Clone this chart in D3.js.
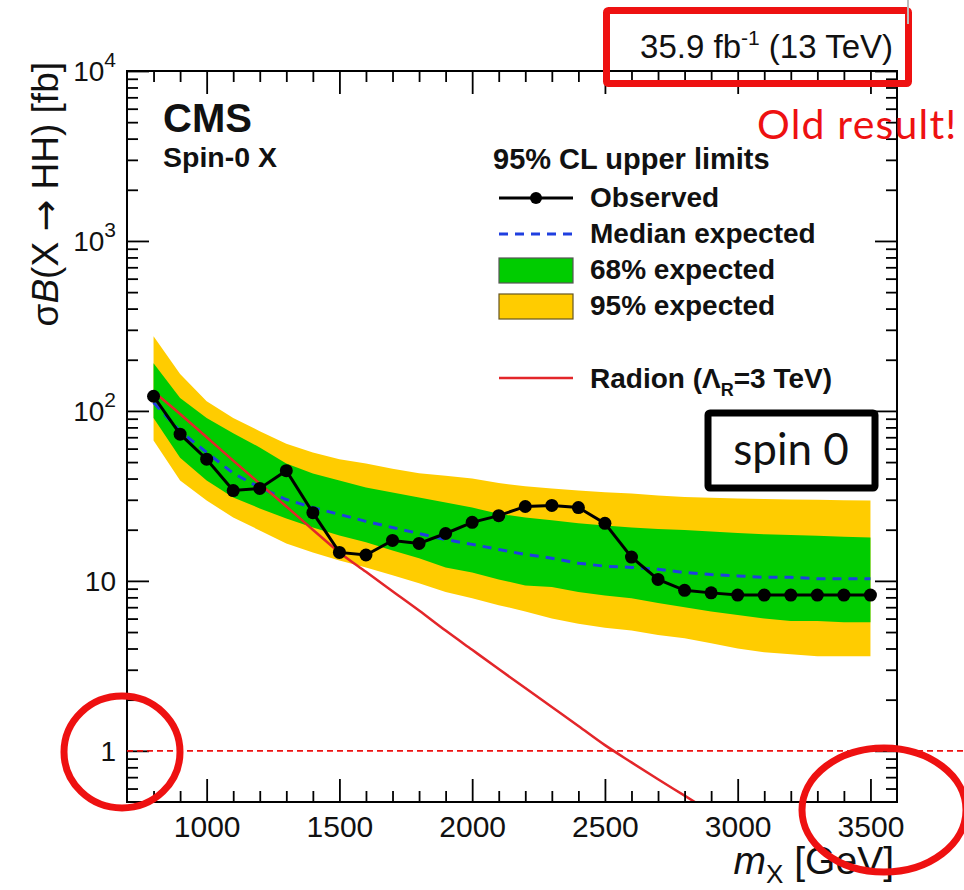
<!DOCTYPE html>
<html><head><meta charset="utf-8">
<script src="https://cdn.jsdelivr.net/npm/d3@7"></script>
<style>
body{margin:0;background:#fff}
svg{display:block}
text{font-family:"Liberation Sans",Arial,Helvetica,sans-serif;fill:#111}
</style>
</head><body><svg id="c" width="964" height="890"></svg>
<script>
// ---- data ----
const masses   = [800,900,1000,1100,1200,1300,1400,1500,1600,1700,1800,1900,2000,2100,2200,2300,2400,2500,2600,2700,2800,2900,3000,3100,3200,3300,3400,3500];
const observed = [122,73,52,34,35,44.5,25.2,14.7,14.2,17.3,16.6,19.0,22.1,24.2,27.4,27.8,27.0,21.8,13.8,10.2,8.8,8.5,8.25,8.25,8.25,8.25,8.25,8.25];
const expMedian= [112,76,57,43,35.4,30.1,27,24.6,22.4,20.6,19.0,17.5,16.4,15.3,14.3,13.6,12.7,12.2,12.0,11.7,11.2,10.9,10.7,10.5,10.5,10.3,10.3,10.3];
const exp68Up  = [191,119,91,74,61,49,42.8,38.9,35.4,33.1,30.9,28.9,27,24.8,23.6,22.7,21.8,21.2,20.6,20.2,19.9,19.5,19.1,18.8,18.6,18.4,18.2,18.0];
const exp68Down= [91,53,38.9,30.9,26.7,23.3,20.6,18.5,16.9,15.1,13.6,12.0,11.2,10.2,9.4,9.2,8.6,8.2,7.9,7.4,7.0,6.6,6.3,6.0,5.8,5.8,5.7,5.7];
const exp95Up  = [275,165,114,91,76,64,57,52,49,45.7,43,41.6,40,37.6,36,35,34,33.2,32.7,31.8,31.2,30.8,30.5,30.3,30.1,30,29.8,29.7];
const exp95Down= [67,38.9,29.7,23.6,19.8,16.6,14.7,13.2,12.0,10.8,9.7,8.6,7.9,7.2,6.6,6.0,5.6,5.3,5.1,4.8,4.6,4.3,4.0,3.8,3.7,3.6,3.6,3.6];
const radion   = [130,96,70,51,37.3,27.4,20,14.7,11.3,8.7,6.7,5.1,3.93,3.03,2.34,1.81,1.40,1.08,0.855,0.68,0.545,0.436,0.35,0.28,0.225,0.18,0.145,0.117];
const xTickValues = [1000,1500,2000,2500,3000,3500];
const yTickValues = [1,10,100,1000,10000];
const yTickLabels = [["1",""],["10",""],["10","2"],["10","3"],["10","4"]];

// ---- layout ----
const L=127,R=897,T=71,B=802;
const svg=d3.select("#c");
const x=d3.scaleLinear().domain([700,3600]).range([L,R]);
const y=d3.scaleLog().domain([0.5,1e4]).range([B,T]);

svg.append("defs").append("clipPath").attr("id","clip")
  .append("rect").attr("x",L).attr("y",T).attr("width",R-L).attr("height",B-T);

const rows=masses.map((m,i)=>({m,obs:observed[i],med:expMedian[i],u68:exp68Up[i],d68:exp68Down[i],u95:exp95Up[i],d95:exp95Down[i],rad:radion[i]}));

const g=svg.append("g").attr("clip-path","url(#clip)");
g.append("path").datum(rows).attr("fill","#ffcc00")
  .attr("d",d3.area().x(d=>x(d.m)).y0(d=>y(d.d95)).y1(d=>y(d.u95)));
g.append("path").datum(rows).attr("fill","#00cc00")
  .attr("d",d3.area().x(d=>x(d.m)).y0(d=>y(d.d68)).y1(d=>y(d.u68)));
g.append("path").datum(rows).attr("fill","none").attr("stroke","#1f3fe0").attr("stroke-width",3)
  .attr("stroke-dasharray","9,7")
  .attr("d",d3.line().x(d=>x(d.m)).y(d=>y(d.med)));
g.append("path").datum(rows).attr("fill","none").attr("stroke","#e3262a").attr("stroke-width",2.5)
  .attr("d",d3.line().curve(d3.curveMonotoneX).x(d=>x(d.m)).y(d=>y(d.rad)));
g.append("path").datum(rows).attr("fill","none").attr("stroke","#000").attr("stroke-width",3)
  .attr("d",d3.line().x(d=>x(d.m)).y(d=>y(d.obs)));
g.selectAll("circle.obs").data(rows).enter().append("circle")
  .attr("cx",d=>x(d.m)).attr("cy",d=>y(d.obs)).attr("r",6.5).attr("fill","#000");

// ---- axes ----
const xMinor=d3.range(800,3600,100).filter(v=>v%500!==0);
const yMinor=[];
[0.1,1,10,100,1000].forEach(dec=>{for(let k=2;k<=9;k++){const v=k*dec;if(v>0.5&&v<1e4)yMinor.push(v);}});

function styleAxis(sel){sel.select(".domain").remove();sel.selectAll(".tick line").attr("stroke","#000").attr("stroke-width",1.8);}

// bottom
svg.append("g").attr("transform",`translate(0,${B})`)
  .call(d3.axisBottom(x).tickValues(xTickValues).tickSizeInner(-23).tickSizeOuter(0).tickPadding(14).tickFormat(d3.format("d")))
  .call(styleAxis)
  .call(s=>s.selectAll("text").attr("font-size",30).attr("fill","#111").style("font-family","'Liberation Sans',Arial,sans-serif"));
svg.append("g").attr("transform",`translate(0,${B})`)
  .call(d3.axisBottom(x).tickValues(xMinor).tickSizeInner(-11).tickSizeOuter(0).tickFormat(""))
  .call(styleAxis);
// top
svg.append("g").attr("transform",`translate(0,${T})`)
  .call(d3.axisBottom(x).tickValues(xTickValues).tickSizeInner(23).tickSizeOuter(0).tickFormat(""))
  .call(styleAxis);
svg.append("g").attr("transform",`translate(0,${T})`)
  .call(d3.axisBottom(x).tickValues(xMinor).tickSizeInner(11).tickSizeOuter(0).tickFormat(""))
  .call(styleAxis);
// left
const la=svg.append("g").attr("transform",`translate(${L},0)`)
  .call(d3.axisLeft(y).tickValues(yTickValues).tickSizeInner(-22).tickSizeOuter(0).tickPadding(11).tickFormat(""))
  .call(styleAxis);
la.selectAll(".tick text").each(function(d){
  const t=d3.select(this).attr("font-size",28).attr("fill","#111").attr("dy","0.35em")
    .style("font-family","'Liberation Sans',Arial,sans-serif");
  const lab=yTickLabels[yTickValues.indexOf(d)];
  t.text(null);
  t.append("tspan").text(lab[0]);
  if(lab[1]) t.append("tspan").attr("dy","-14").attr("font-size",21).text(lab[1]);
});
svg.append("g").attr("transform",`translate(${L},0)`)
  .call(d3.axisLeft(y).tickValues(yMinor).tickSizeInner(-11).tickSizeOuter(0).tickFormat(""))
  .call(styleAxis);
// right
svg.append("g").attr("transform",`translate(${R},0)`)
  .call(d3.axisLeft(y).tickValues(yTickValues).tickSizeInner(22).tickSizeOuter(0).tickFormat(""))
  .call(styleAxis);
svg.append("g").attr("transform",`translate(${R},0)`)
  .call(d3.axisLeft(y).tickValues(yMinor).tickSizeInner(11).tickSizeOuter(0).tickFormat(""))
  .call(styleAxis);

// frame
svg.append("rect").attr("x",L).attr("y",T).attr("width",R-L).attr("height",B-T)
  .attr("fill","none").attr("stroke","#000").attr("stroke-width",2);

// axis titles
const xt=svg.append("text").attr("x",894).attr("y",874).attr("text-anchor","end").attr("font-size",39);
xt.append("tspan").attr("font-style","italic").text("m");
xt.append("tspan").attr("dy","9").attr("font-size",26).text("X");
xt.append("tspan").attr("dy","-9").text(" [GeV]");

const yt=svg.append("text").attr("transform","translate(58,62) rotate(-90)").attr("text-anchor","end").attr("font-size",37);
yt.append("tspan").text("σ");
yt.append("tspan").attr("font-style","italic").text("B");
yt.append("tspan").text("(X ");
yt.append("tspan").style("font-family","'DejaVu Sans',sans-serif").attr("font-size",38).text("→");
yt.append("tspan").text(" HH) [fb]");

// labels
svg.append("text").attr("x",163).attr("y",132).attr("font-size",40).attr("font-weight","bold").text("CMS");
svg.append("text").attr("x",163).attr("y",167).attr("font-size",28.5).attr("font-weight","bold").text("Spin-0 X");

const lumi=svg.append("text").attr("x",893).attr("y",58).attr("text-anchor","end").attr("font-size",33);
lumi.append("tspan").text("35.9 fb");
lumi.append("tspan").attr("dy","-13").attr("font-size",21).text("-1");
lumi.append("tspan").attr("dy","13").text(" (13 TeV)");

// legend
const lg=svg.append("g");
lg.append("text").attr("x",493).attr("y",169).attr("font-size",29).attr("font-weight","bold").text("95% CL upper limits");
const lx0=499,lx1=573,tx=590,fs=28;
lg.append("line").attr("x1",lx0).attr("x2",lx1).attr("y1",198).attr("y2",198).attr("stroke","#000").attr("stroke-width",3);
lg.append("circle").attr("cx",(lx0+lx1)/2).attr("cy",198).attr("r",6).attr("fill","#000");
lg.append("text").attr("x",tx).attr("y",207).attr("font-size",fs).attr("font-weight","bold").text("Observed");
lg.append("line").attr("x1",lx0).attr("x2",lx1).attr("y1",234).attr("y2",234).attr("stroke","#1f3fe0").attr("stroke-width",3).attr("stroke-dasharray","9,7");
lg.append("text").attr("x",tx).attr("y",243).attr("font-size",fs).attr("font-weight","bold").text("Median expected");
lg.append("rect").attr("x",lx0).attr("y",258).attr("width",lx1-lx0).attr("height",25).attr("fill","#00cc00").attr("stroke","#555").attr("stroke-width",1.2);
lg.append("text").attr("x",tx).attr("y",279).attr("font-size",fs).attr("font-weight","bold").text("68% expected");
lg.append("rect").attr("x",lx0).attr("y",294).attr("width",lx1-lx0).attr("height",25).attr("fill","#ffcc00").attr("stroke","#665522").attr("stroke-width",1.2);
lg.append("text").attr("x",tx).attr("y",315).attr("font-size",fs).attr("font-weight","bold").text("95% expected");
lg.append("line").attr("x1",lx0).attr("x2",lx1).attr("y1",378).attr("y2",378).attr("stroke","#e3262a").attr("stroke-width",2.5);
const rt=lg.append("text").attr("x",tx).attr("y",388).attr("font-size",fs).attr("font-weight","bold");
rt.append("tspan").text("Radion (Λ");
rt.append("tspan").attr("dy","8").attr("font-size",18).text("R");
rt.append("tspan").attr("dy","-8").text("=3 TeV)");

// annotations
svg.append("line").attr("x1",L).attr("x2",964).attr("y1",y(1)).attr("y2",y(1))
  .attr("stroke","#ee1111").attr("stroke-width",1.8).attr("stroke-dasharray","6,4");
svg.append("rect").attr("x",606.5).attr("y",10.5).attr("width",302).attr("height",73)
  .attr("fill","none").attr("stroke","#ee1111").attr("stroke-width",7).attr("rx",2);
svg.append("line").attr("x1",908).attr("x2",908).attr("y1",0).attr("y2",24).attr("stroke","#bbb").attr("stroke-width",2);
svg.append("text").attr("x",757).attr("y",139).attr("font-size",41).attr("letter-spacing","1.2")
  .style("font-family","Lato,'Open Sans',sans-serif").style("fill","#ee1111").text("Old result!");
svg.append("rect").attr("x",708).attr("y",413).attr("width",167).attr("height",75)
  .attr("fill","#fff").attr("stroke","#000").attr("stroke-width",7).attr("rx",2);
svg.append("text").attr("x",791).attr("y",465).attr("text-anchor","middle").attr("font-size",44)
  .style("font-family","Lato,'Open Sans',sans-serif").text("spin 0");
svg.append("ellipse").attr("cx",122).attr("cy",752).attr("rx",58).attr("ry",56)
  .attr("fill","none").attr("stroke","#ee1111").attr("stroke-width",7);
svg.append("ellipse").attr("cx",884).attr("cy",810).attr("rx",82).attr("ry",62)
  .attr("fill","none").attr("stroke","#ee1111").attr("stroke-width",7);
</script></body></html>
